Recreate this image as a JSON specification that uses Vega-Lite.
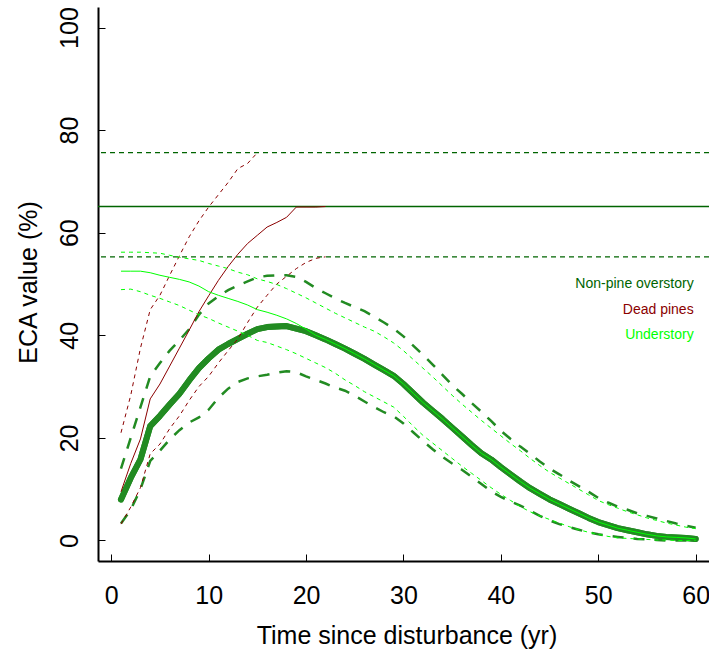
{
  "$schema": "https://vega.github.io/schema/vega-lite/v6.json",
  "width": 611,
  "height": 554,
  "autosize": {"type": "none"},
  "padding": {"left": 98, "top": 7, "right": 0, "bottom": 90},
  "background": "white",
  "config": {
    "view": {"stroke": null},
    "font": "Liberation Sans",
    "axis": {
      "domainColor": "black", "domainWidth": 2, "tickColor": "black", "tickWidth": 1, "tickSize": -7,
      "labelFont": "Liberation Sans", "labelFontSize": 25, "labelColor": "black",
      "titleFont": "Liberation Sans", "titleFontSize": 25, "titleFontWeight": "normal", "titleColor": "black",
      "grid": false, "labelFlush": false, "labelOverlap": false
    }
  },
  "datasets": {
    "curves": [
      {"t":1,"npm":8.0,"npu":14.0,"npl":3.3,"dm":9.5,"du":21.0,"dl":3.2,"um":52.5,"uu":56.2,"ul":48.9},
      {"t":2,"npm":12.2,"npu":20.0,"npl":6.0,"dm":15.0,"du":28.3,"dl":6.5,"um":52.5,"uu":56.2,"ul":49.0},
      {"t":3,"npm":15.8,"npu":26.0,"npl":10.0,"dm":19.8,"du":37.5,"dl":10.3,"um":52.5,"uu":56.2,"ul":48.5},
      {"t":4,"npm":22.3,"npu":32.0,"npl":15.5,"dm":27.6,"du":45.0,"dl":16.9,"um":52.2,"uu":56.1,"ul":47.8},
      {"t":5,"npm":24.3,"npu":34.6,"npl":17.5,"dm":30.5,"du":47.8,"dl":18.8,"um":51.7,"uu":56.0,"ul":47.2},
      {"t":6,"npm":26.5,"npu":37.0,"npl":19.7,"dm":34.0,"du":51.7,"dl":21.8,"um":51.3,"uu":55.6,"ul":46.5},
      {"t":7,"npm":28.6,"npu":39.0,"npl":21.5,"dm":37.5,"du":55.5,"dl":24.3,"um":50.9,"uu":55.2,"ul":45.8},
      {"t":8,"npm":31.2,"npu":41.2,"npl":23.0,"dm":41.0,"du":59.2,"dl":27.3,"um":50.4,"uu":54.9,"ul":44.9},
      {"t":9,"npm":33.6,"npu":44.0,"npl":24.0,"dm":44.6,"du":62.3,"dl":30.0,"um":49.6,"uu":54.6,"ul":44.0},
      {"t":10,"npm":35.5,"npu":46.2,"npl":25.5,"dm":47.7,"du":65.0,"dl":32.0,"um":48.5,"uu":54.0,"ul":43.3},
      {"t":11,"npm":37.2,"npu":47.6,"npl":27.8,"dm":50.7,"du":67.4,"dl":34.6,"um":47.8,"uu":53.5,"ul":42.4},
      {"t":12,"npm":38.3,"npu":48.8,"npl":29.6,"dm":53.4,"du":69.8,"dl":37.0,"um":47.2,"uu":53.0,"ul":41.6},
      {"t":13,"npm":39.3,"npu":49.7,"npl":30.9,"dm":55.8,"du":72.5,"dl":39.3,"um":46.6,"uu":52.3,"ul":40.8},
      {"t":14,"npm":40.3,"npu":50.5,"npl":31.6,"dm":57.9,"du":73.5,"dl":42.5,"um":45.9,"uu":51.8,"ul":40.0},
      {"t":15,"npm":41.2,"npu":51.3,"npl":32.0,"dm":59.5,"du":75.6,"dl":45.5,"um":45.0,"uu":51.0,"ul":39.0},
      {"t":16,"npm":41.6,"npu":51.6,"npl":32.3,"dm":61.1,"du":null,"dl":47.8,"um":44.5,"uu":50.5,"ul":38.6},
      {"t":17,"npm":41.7,"npu":51.7,"npl":32.7,"dm":62.0,"du":null,"dl":50.0,"um":43.9,"uu":49.9,"ul":37.9},
      {"t":18,"npm":41.8,"npu":51.7,"npl":33.0,"dm":63.0,"du":null,"dl":51.5,"um":43.2,"uu":49.1,"ul":37.2},
      {"t":19,"npm":41.3,"npu":51.4,"npl":32.8,"dm":65.0,"du":null,"dl":53.0,"um":42.3,"uu":48.2,"ul":36.4},
      {"t":20,"npm":40.8,"npu":50.4,"npl":32.0,"dm":65.0,"du":null,"dl":54.2,"um":41.2,"uu":47.3,"ul":35.5},
      {"t":21,"npm":40.0,"npu":49.2,"npl":31.3,"dm":65.0,"du":null,"dl":55.0,"um":40.0,"uu":46.3,"ul":34.6},
      {"t":22,"npm":39.2,"npu":48.2,"npl":30.6,"dm":65.1,"du":null,"dl":55.3,"um":39.2,"uu":45.3,"ul":33.7},
      {"t":23,"npm":38.3,"npu":47.2,"npl":29.8,"dm":null,"du":null,"dl":null,"um":38.3,"uu":44.3,"ul":32.6},
      {"t":24,"npm":37.4,"npu":46.3,"npl":29.2,"dm":null,"du":null,"dl":null,"um":37.4,"uu":43.4,"ul":31.3},
      {"t":25,"npm":36.4,"npu":45.5,"npl":28.2,"dm":null,"du":null,"dl":null,"um":36.4,"uu":42.5,"ul":30.2},
      {"t":26,"npm":35.4,"npu":44.7,"npl":27.1,"dm":null,"du":null,"dl":null,"um":35.4,"uu":41.6,"ul":29.0},
      {"t":27,"npm":34.3,"npu":43.6,"npl":26.0,"dm":null,"du":null,"dl":null,"um":34.3,"uu":40.8,"ul":28.0},
      {"t":28,"npm":33.2,"npu":42.5,"npl":25.0,"dm":null,"du":null,"dl":null,"um":33.2,"uu":39.7,"ul":27.0},
      {"t":29,"npm":32.1,"npu":41.3,"npl":24.2,"dm":null,"du":null,"dl":null,"um":32.1,"uu":38.5,"ul":26.0},
      {"t":30,"npm":30.5,"npu":39.8,"npl":22.8,"dm":null,"du":null,"dl":null,"um":30.5,"uu":37.0,"ul":24.2},
      {"t":31,"npm":28.7,"npu":38.0,"npl":21.1,"dm":null,"du":null,"dl":null,"um":28.7,"uu":35.3,"ul":22.3},
      {"t":32,"npm":26.9,"npu":36.2,"npl":19.4,"dm":null,"du":null,"dl":null,"um":26.9,"uu":33.6,"ul":20.5},
      {"t":33,"npm":25.3,"npu":34.3,"npl":17.8,"dm":null,"du":null,"dl":null,"um":25.3,"uu":31.9,"ul":19.0},
      {"t":34,"npm":23.7,"npu":32.3,"npl":16.3,"dm":null,"du":null,"dl":null,"um":23.7,"uu":30.1,"ul":17.5},
      {"t":35,"npm":22.0,"npu":30.3,"npl":15.0,"dm":null,"du":null,"dl":null,"um":22.0,"uu":28.3,"ul":16.0},
      {"t":36,"npm":20.3,"npu":28.6,"npl":13.8,"dm":null,"du":null,"dl":null,"um":20.3,"uu":26.6,"ul":14.5},
      {"t":37,"npm":18.6,"npu":26.8,"npl":12.4,"dm":null,"du":null,"dl":null,"um":18.6,"uu":25.0,"ul":13.1},
      {"t":38,"npm":17.0,"npu":25.1,"npl":11.0,"dm":null,"du":null,"dl":null,"um":17.0,"uu":23.4,"ul":11.7},
      {"t":39,"npm":15.8,"npu":23.3,"npl":9.6,"dm":null,"du":null,"dl":null,"um":15.8,"uu":21.9,"ul":10.3},
      {"t":40,"npm":14.3,"npu":21.4,"npl":8.5,"dm":null,"du":null,"dl":null,"um":14.3,"uu":20.4,"ul":9.0},
      {"t":41,"npm":12.9,"npu":19.8,"npl":7.6,"dm":null,"du":null,"dl":null,"um":12.9,"uu":18.9,"ul":7.8},
      {"t":42,"npm":11.5,"npu":18.3,"npl":6.8,"dm":null,"du":null,"dl":null,"um":11.5,"uu":17.5,"ul":6.6},
      {"t":43,"npm":10.2,"npu":16.9,"npl":5.8,"dm":null,"du":null,"dl":null,"um":10.2,"uu":16.0,"ul":5.6},
      {"t":44,"npm":9.1,"npu":15.4,"npl":4.8,"dm":null,"du":null,"dl":null,"um":9.1,"uu":14.6,"ul":4.8},
      {"t":45,"npm":8.0,"npu":14.0,"npl":3.9,"dm":null,"du":null,"dl":null,"um":8.0,"uu":13.3,"ul":4.1},
      {"t":46,"npm":7.1,"npu":12.9,"npl":3.2,"dm":null,"du":null,"dl":null,"um":7.1,"uu":12.2,"ul":3.4},
      {"t":47,"npm":6.2,"npu":11.7,"npl":2.6,"dm":null,"du":null,"dl":null,"um":6.2,"uu":11.1,"ul":2.7},
      {"t":48,"npm":5.3,"npu":10.6,"npl":2.1,"dm":null,"du":null,"dl":null,"um":5.3,"uu":10.0,"ul":2.1},
      {"t":49,"npm":4.4,"npu":9.5,"npl":1.6,"dm":null,"du":null,"dl":null,"um":4.4,"uu":8.9,"ul":1.6},
      {"t":50,"npm":3.6,"npu":8.3,"npl":1.2,"dm":null,"du":null,"dl":null,"um":3.6,"uu":7.8,"ul":1.2},
      {"t":51,"npm":3.0,"npu":7.4,"npl":0.9,"dm":null,"du":null,"dl":null,"um":3.0,"uu":7.0,"ul":0.8},
      {"t":52,"npm":2.4,"npu":6.6,"npl":0.7,"dm":null,"du":null,"dl":null,"um":2.4,"uu":6.3,"ul":0.5},
      {"t":53,"npm":2.0,"npu":6.0,"npl":0.5,"dm":null,"du":null,"dl":null,"um":2.0,"uu":5.6,"ul":0.4},
      {"t":54,"npm":1.6,"npu":5.3,"npl":0.3,"dm":null,"du":null,"dl":null,"um":1.6,"uu":5.0,"ul":0.3},
      {"t":55,"npm":1.2,"npu":4.8,"npl":0.2,"dm":null,"du":null,"dl":null,"um":1.2,"uu":4.4,"ul":0.2},
      {"t":56,"npm":0.9,"npu":4.3,"npl":0.1,"dm":null,"du":null,"dl":null,"um":0.9,"uu":3.9,"ul":0.1},
      {"t":57,"npm":0.7,"npu":3.8,"npl":0.0,"dm":null,"du":null,"dl":null,"um":0.7,"uu":3.4,"ul":0.1},
      {"t":58,"npm":0.6,"npu":3.3,"npl":0.0,"dm":null,"du":null,"dl":null,"um":0.6,"uu":3.0,"ul":0.0},
      {"t":59,"npm":0.5,"npu":2.9,"npl":0.0,"dm":null,"du":null,"dl":null,"um":0.5,"uu":2.6,"ul":0.0},
      {"t":60,"npm":0.3,"npu":2.5,"npl":0.0,"dm":null,"du":null,"dl":null,"um":0.3,"uu":2.3,"ul":0.0}
    ],
    "hlines": [
      {"level": "mean", "v": 65.1},
      {"level": "upper", "v": 75.6},
      {"level": "lower", "v": 55.3}
    ],
    "labels": [
      {"label": "Non-pine overstory", "t": 60, "v": 50},
      {"label": "Dead pines", "t": 60, "v": 45},
      {"label": "Understory", "t": 60, "v": 40}
    ]
  },
  "layer": [
    {
      "data": {"name": "curves"},
      "mark": {"type": "line", "color": "#228B22", "strokeWidth": 6, "strokeCap": "round", "strokeJoin": "round"},
      "encoding": {
        "x": {"field": "t", "type": "quantitative", "scale": {"domain": [-1.36, 61.37], "nice": false, "zero": false},
          "axis": {"values": [0, 10, 20, 30, 40, 50, 60], "title": "Time since disturbance (yr)", "labelPadding": 29, "labelBaseline": "top",
            "titleX": 308.5, "titleY": 82, "titleAlign": "center", "titleBaseline": "alphabetic"}},
        "y": {"field": "npm", "type": "quantitative", "scale": {"domain": [-4, 104], "nice": false, "zero": false},
          "axis": {"values": [0, 20, 40, 60, 80, 100], "title": "ECA value (%)", "labelAngle": -90, "labelAlign": "center", "labelBaseline": "alphabetic", "labelPadding": 28,
            "titleX": -62, "titleY": 275, "titleAngle": -90, "titleAlign": "center", "titleBaseline": "alphabetic"}}
      }
    },
    {
      "data": {"name": "hlines"},
      "transform": [{"filter": "datum.level === 'mean'"}],
      "mark": {"type": "rule", "color": "#006400", "strokeWidth": 1.5},
      "encoding": {"y": {"field": "v", "type": "quantitative", "scale": {"domain": [-4, 104], "nice": false, "zero": false}}}
    },
    {
      "data": {"name": "hlines"},
      "transform": [{"filter": "datum.level !== 'mean'"}],
      "mark": {"type": "rule", "color": "#006400", "strokeWidth": 1.3, "strokeDash": [5, 4]},
      "encoding": {"y": {"field": "v", "type": "quantitative", "scale": {"domain": [-4, 104], "nice": false, "zero": false}}}
    },
    {
      "data": {"name": "curves"},
      "mark": {"type": "line", "color": "#228B22", "strokeWidth": 2.5, "strokeDash": [11, 10]},
      "encoding": {
        "x": {"field": "t", "type": "quantitative", "scale": {"domain": [-1.36, 61.37], "nice": false, "zero": false}},
        "y": {"field": "npu", "type": "quantitative", "scale": {"domain": [-4, 104], "nice": false, "zero": false}}
      }
    },
    {
      "data": {"name": "curves"},
      "mark": {"type": "line", "color": "#228B22", "strokeWidth": 2.5, "strokeDash": [11, 10]},
      "encoding": {
        "x": {"field": "t", "type": "quantitative", "scale": {"domain": [-1.36, 61.37], "nice": false, "zero": false}},
        "y": {"field": "npl", "type": "quantitative", "scale": {"domain": [-4, 104], "nice": false, "zero": false}}
      }
    },
    {
      "data": {"name": "curves"},
      "mark": {"type": "line", "color": "#228B22", "strokeWidth": 6, "strokeCap": "round", "strokeJoin": "round"},
      "encoding": {
        "x": {"field": "t", "type": "quantitative", "scale": {"domain": [-1.36, 61.37], "nice": false, "zero": false}},
        "y": {"field": "npm", "type": "quantitative", "scale": {"domain": [-4, 104], "nice": false, "zero": false}}
      }
    },
    {
      "data": {"name": "curves"},
      "mark": {"type": "line", "color": "#8B0000", "strokeWidth": 1},
      "encoding": {
        "x": {"field": "t", "type": "quantitative", "scale": {"domain": [-1.36, 61.37], "nice": false, "zero": false}},
        "y": {"field": "dm", "type": "quantitative", "scale": {"domain": [-4, 104], "nice": false, "zero": false}}
      }
    },
    {
      "data": {"name": "curves"},
      "mark": {"type": "line", "color": "#8B0000", "strokeWidth": 1, "strokeDash": [4, 4]},
      "encoding": {
        "x": {"field": "t", "type": "quantitative", "scale": {"domain": [-1.36, 61.37], "nice": false, "zero": false}},
        "y": {"field": "du", "type": "quantitative", "scale": {"domain": [-4, 104], "nice": false, "zero": false}}
      }
    },
    {
      "data": {"name": "curves"},
      "mark": {"type": "line", "color": "#8B0000", "strokeWidth": 1, "strokeDash": [4, 4]},
      "encoding": {
        "x": {"field": "t", "type": "quantitative", "scale": {"domain": [-1.36, 61.37], "nice": false, "zero": false}},
        "y": {"field": "dl", "type": "quantitative", "scale": {"domain": [-4, 104], "nice": false, "zero": false}}
      }
    },
    {
      "data": {"name": "curves"},
      "mark": {"type": "line", "color": "#00FF00", "strokeWidth": 1},
      "encoding": {
        "x": {"field": "t", "type": "quantitative", "scale": {"domain": [-1.36, 61.37], "nice": false, "zero": false}},
        "y": {"field": "um", "type": "quantitative", "scale": {"domain": [-4, 104], "nice": false, "zero": false}}
      }
    },
    {
      "data": {"name": "curves"},
      "mark": {"type": "line", "color": "#00FF00", "strokeWidth": 1, "strokeDash": [4, 4]},
      "encoding": {
        "x": {"field": "t", "type": "quantitative", "scale": {"domain": [-1.36, 61.37], "nice": false, "zero": false}},
        "y": {"field": "uu", "type": "quantitative", "scale": {"domain": [-4, 104], "nice": false, "zero": false}}
      }
    },
    {
      "data": {"name": "curves"},
      "mark": {"type": "line", "color": "#00FF00", "strokeWidth": 1, "strokeDash": [4, 4]},
      "encoding": {
        "x": {"field": "t", "type": "quantitative", "scale": {"domain": [-1.36, 61.37], "nice": false, "zero": false}},
        "y": {"field": "ul", "type": "quantitative", "scale": {"domain": [-4, 104], "nice": false, "zero": false}}
      }
    },
    {
      "data": {"name": "labels"},
      "mark": {"type": "text", "align": "right", "baseline": "middle", "fontSize": 14, "dx": -2, "font": "Liberation Sans"},
      "encoding": {
        "x": {"field": "t", "type": "quantitative", "scale": {"domain": [-1.36, 61.37], "nice": false, "zero": false}},
        "y": {"field": "v", "type": "quantitative", "scale": {"domain": [-4, 104], "nice": false, "zero": false}},
        "text": {"field": "label"},
        "color": {"field": "label", "type": "nominal", "scale": {"domain": ["Non-pine overstory", "Dead pines", "Understory"], "range": ["#006400", "#8B0000", "#00FF00"]}, "legend": null}
      }
    }
  ]
}
